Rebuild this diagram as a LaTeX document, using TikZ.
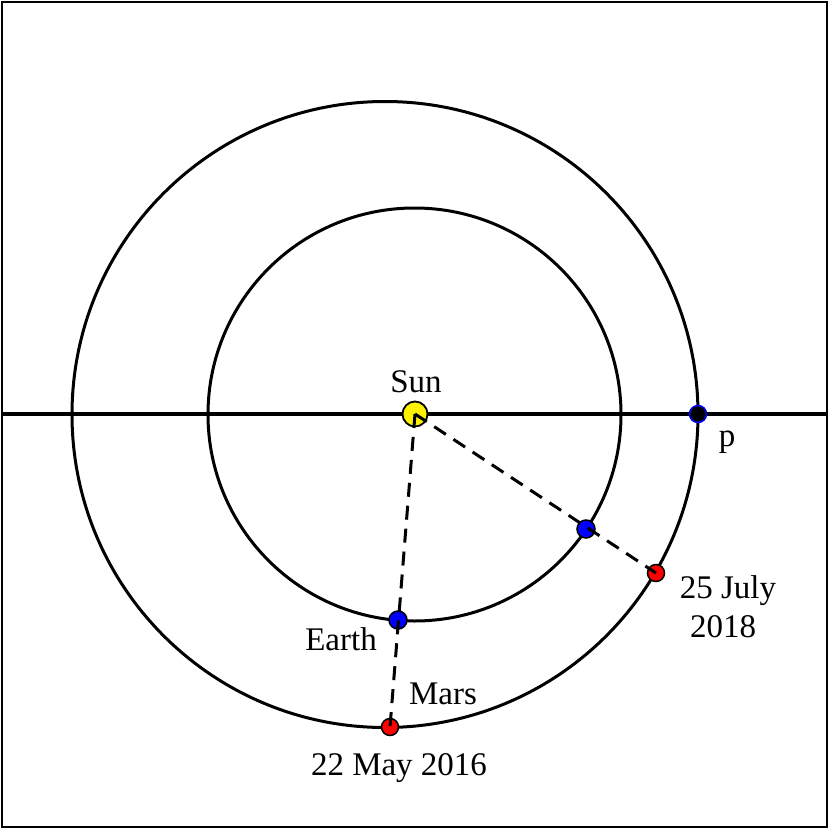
\documentclass[tikz,border=0pt]{standalone}
\usepackage{fontspec}
\setmainfont{Liberation Serif}
\begin{document}
\begin{tikzpicture}[x=1pt,y=-1pt,
  orbit/.style={line width=3pt},
  dot/.style={circle,draw=black,line width=1.5pt,inner sep=0pt,minimum size=18pt},
  bluedot/.style={dot,fill=blue},
  reddot/.style={dot,fill=red,minimum size=17pt},
  dashline/.style={line width=3pt,dash pattern=on 14pt off 9pt},
  lbl/.style={inner sep=0pt,anchor=base,font=\fontsize{33}{39}\selectfont}]
\useasboundingbox (0,0) rectangle (830,830);
\draw[line width=2.4pt] (2,2) rectangle (827,827);
\coordinate (L) at (2,414);
\coordinate (R) at (827,414);
\draw[orbit] (414.5,414.5) circle (206.5pt);
\draw[orbit] (385,414.5) circle (313pt);
\draw[line width=3.2pt] (L) -- (R);
\node[circle,draw=black,fill=yellow,line width=1.8pt,inner sep=0pt,minimum size=25pt] (sun) at (415,414) {};
\node[bluedot] (e1) at (398,620) {};
\node[reddot] (m1) at (390,727) {};
\node[bluedot] (e2) at (586,529) {};
\node[reddot] (m2) at (656,573) {};
\node[dot,fill=black,draw=blue,minimum size=17pt] (p) at (698,414) {};
\draw[dashline] (sun.center) -- (m1.center);
\draw[dashline] (sun.center) -- (m2.center);
\node[lbl] (tsun) at (416,392) {Sun};
\node[lbl] (tp) at (727,446) {p};
\node[lbl] (tearth) at (341,650) {Earth};
\node[lbl] (tmars) at (443,704) {Mars};
\node[lbl] (t2016) at (399,775) {22 May 2016};
\node[lbl] (tjuly) at (728,598) {25 July};
\node[lbl] (t2018) at (723,637) {2018};
\end{tikzpicture}
\end{document}
